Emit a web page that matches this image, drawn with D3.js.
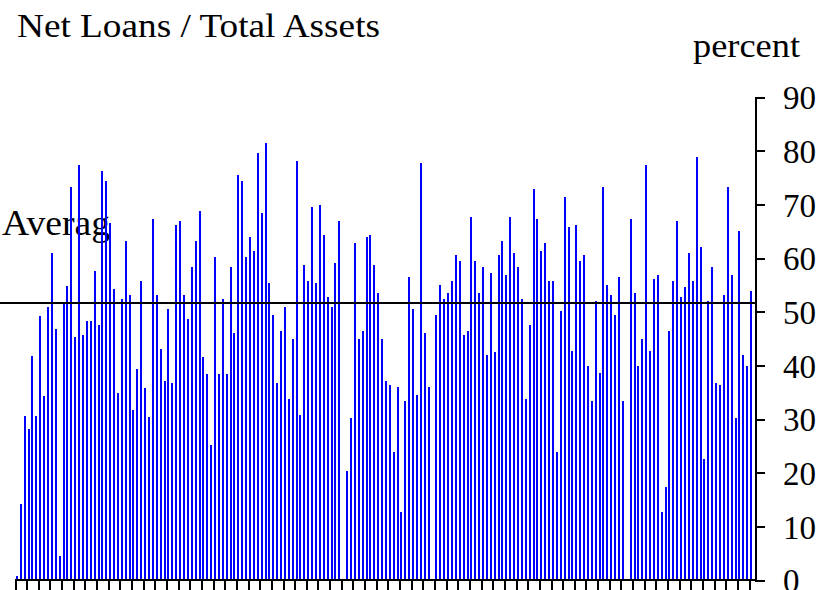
<!DOCTYPE html>
<html lang="en">
<head>
<meta charset="utf-8">
<title>Net Loans / Total Assets</title>
<script src="https://cdn.jsdelivr.net/npm/d3@7"></script>
<style>
  body { margin: 0; background: #fff; }
  svg text { font-family: "Liberation Serif", "Times New Roman", serif; fill: #000; }
  .axis path, .axis line { stroke: #000; stroke-width: 2; fill: none; shape-rendering: crispEdges; }
  .axis text { font-size: 33px; }
</style>
</head>
<body>
<script>
// net loans as percent of total assets, one bar per institution (null = no data)
var loanShare = [
  0.7, 14.1, 30.5, 28.2, 41.7, 30.5, 49.1, 34.2, 50.9, 60.9,
  46.8, 4.5, 51.7, 54.7, 73.2, 45.3, 77.4, 45.7, 48.3, 48.3,
  57.6, 47.6, 76.3, 74.4, 66.5, 54.3, 34.9, 52.4, 63.2, 53.1,
  31.6, 39.4, 55.8, 35.7, 30.4, 67.3, 53.1, 43.1, 37.1, 50.5,
  36.8, 66.2, 66.9, 53.1, 48.7, 58.4, 63.2, 68.8, 41.6, 38.3,
  25.2, 60.2, 38.3, 52.4, 38.3, 58.4, 46.1, 75.5, 74.4, 60.2,
  63.9, 61.3, 79.6, 68.4, 81.4, 55.4, 49.4, 36.8, 46.4, 50.9,
  33.8, 45.0, 78.1, 30.8, 58.7, 55.8, 69.5, 55.4, 69.9, 64.3,
  52.8, 50.9, 59.1, 66.9, null, 20.4, 30.1, 62.8, 45.0, 46.4,
  63.9, 64.3, 58.7, 53.5, 45.0, 37.1, 36.4, 23.8, 36.0, 12.6,
  33.4, 56.5, 50.5, 34.5, 77.7, 46.1, 36.0, null, 49.4, 55.0,
  52.4, 53.5, 55.8, 60.6, 59.5, 45.7, 46.4, 67.7, 59.5, 53.5,
  58.4, 42.0, 57.2, 42.4, 60.6, 63.2, 56.9, 67.7, 61.0, 58.4,
  52.4, 33.8, 47.6, 72.9, 67.3, 61.3, 62.8, 55.8, 55.8, 23.8,
  50.2, 71.4, 65.8, 42.7, 66.2, 59.5, 60.6, 39.8, 33.4, 52.0,
  38.6, 73.2, 55.0, 53.1, 49.4, 56.5, 33.4, null, 67.3, 53.5,
  39.8, 45.0, 77.3, 42.7, 56.1, 56.9, 12.6, 17.4, 46.4, 55.8,
  66.9, 52.8, 54.6, 61.0, 55.8, 78.8, 62.1, 22.6, 52.0, 58.4,
  36.8, 36.4, 53.1, 73.2, 56.9, 30.1, 65.1, 42.0, 39.8, 53.9
];
var banks = d3.range(loanShare.length);
var average = 51.6;
var yTicks = [0, 10, 20, 30, 40, 50, 60, 70, 80, 90];

var w = 823, h = 590;
var plotLeft = 15, plotRight = 753, plotTop = 97, plotBottom = 580;
var axisX = 755;

var svg = d3.select("body").append("svg")
  .attr("width", w)
  .attr("height", h);

var x = d3.scaleLinear().domain([0, banks.length]).range([plotLeft, plotRight]);
var y = d3.scaleLinear().domain([0, 90]).range([plotBottom, plotTop]);

// title + unit
svg.append("text").attr("x", 17).attr("y", 37)
  .attr("font-size", 34).attr("textLength", 363).attr("lengthAdjust", "spacingAndGlyphs")
  .text("Net Loans / Total Assets");
svg.append("text").attr("x", 693).attr("y", 57)
  .attr("font-size", 34).attr("textLength", 107).attr("lengthAdjust", "spacingAndGlyphs")
  .text("percent");

// average label sits under the bars
svg.append("text").attr("x", 2).attr("y", 235)
  .attr("font-size", 35).attr("textLength", 108).attr("lengthAdjust", "spacingAndGlyphs")
  .text("Averag");

svg.append("g")
  .selectAll("rect")
  .data(banks.filter(function(i) { return loanShare[i] != null; }))
  .enter().append("rect")
  .attr("x", function(i) { return Math.round(x(i + 0.5) - 1); })
  .attr("width", 2)
  .attr("y", function(i) { return y(loanShare[i]); })
  .attr("height", function(i) { return y(0) - y(loanShare[i]); })
  .attr("fill", "#0000ff")
  .attr("shape-rendering", "crispEdges");

// average line
svg.append("line")
  .attr("x1", 0).attr("x2", axisX + 2)
  .attr("y1", y(average)).attr("y2", y(average))
  .attr("stroke", "#000").attr("stroke-width", 2)
  .attr("shape-rendering", "crispEdges");

// bottom axis: ticks every 3 bars, no labels
var xAxis = d3.axisBottom(x)
  .tickValues(d3.range(0, banks.length, 3))
  .tickSize(10).tickSizeOuter(0)
  .tickFormat("");
svg.append("g").attr("class", "axis")
  .attr("transform", "translate(0," + plotBottom + ")")
  .call(xAxis)
  .select(".domain").attr("d", "M" + plotLeft + ",0H" + (axisX + 1));

// right value axis
var yAxis = d3.axisRight(y)
  .tickValues(yTicks)
  .tickSize(10).tickSizeOuter(0)
  .tickPadding(18);
svg.append("g").attr("class", "axis")
  .attr("transform", "translate(" + axisX + ",0)")
  .call(yAxis)
  .selectAll("text").attr("dy", "0.36em");
</script>
</body>
</html>
